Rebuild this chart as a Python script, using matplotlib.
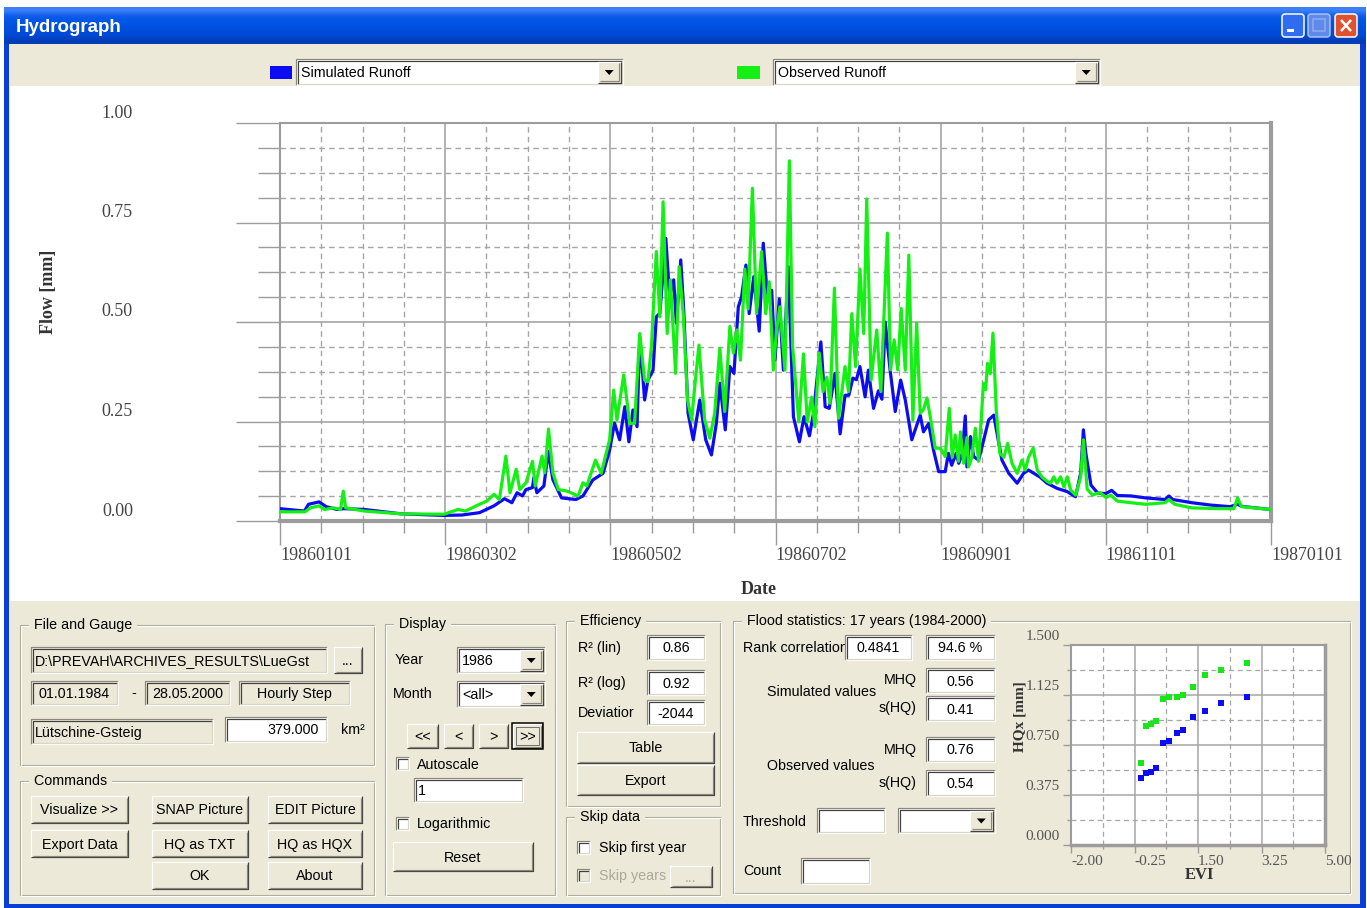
import numpy as np
import matplotlib
matplotlib.use("Agg")
import matplotlib.pyplot as plt
from matplotlib.patches import Rectangle, FancyBboxPatch, Polygon
from matplotlib.transforms import ScaledTranslation

# hydrograph 1986 (day of year, runoff in mm)
sim_day = [0, 9, 10.5, 14.4, 17, 21, 23.6, 31, 44.6, 60.4,
           67, 73.5, 78.8, 82.7, 85.4, 87.3, 89.3, 90.6, 93, 93.5,
           94.6, 97.2, 98.8, 100.5, 103.7, 109, 111.6, 115.2, 119, 121.4,
           123.2, 125.1, 127, 128.5, 130, 131.5, 132.5, 134.3, 135.5, 137.4,
           138.6, 139.9, 142.1, 143.5, 145, 146, 147.6, 148.7, 150.3, 152.2,
           154.6, 156.8, 158.9, 160.7, 162, 164, 165.7, 167.2, 168.8, 170,
           171.6, 172.8, 174.5, 176.5, 178, 179.5, 181.1, 182.3, 183.9, 185.4,
           187.2, 189.1, 191.3, 193, 195, 196.5, 198, 199.2, 200.8, 202.3,
           204.4, 206.3, 208.1, 209.5, 211, 212.3, 213.6, 215.5, 216.7, 218.6,
           220.4, 221.7, 222.9, 224.7, 226.6, 228.6, 230.3, 232.7, 234, 235.8,
           237, 238.9, 240.7, 242.6, 245, 246.2, 247.4, 249, 250, 251.3,
           252.4, 253, 254.3, 255.5, 257.3, 259.2, 261, 262.9, 264.1, 265.9,
           268.4, 271.5, 273.9, 275.7, 277.6, 280, 282.5, 286.2, 289.9, 293,
           294.9, 295.9, 296.8, 298.7, 301.2, 304.2, 306.3, 308.4, 313.3, 318.9,
           326, 327.4, 328.8, 335.8, 342.8, 349.9, 352.7, 354.1, 364.6]
sim_flow = [0.031, 0.025, 0.042, 0.048, 0.036, 0.029, 0.031, 0.029, 0.018, 0.014,
            0.015, 0.021, 0.038, 0.056, 0.046, 0.071, 0.063, 0.079, 0.084, 0.109,
            0.071, 0.088, 0.175, 0.104, 0.058, 0.054, 0.063, 0.103, 0.12, 0.178,
            0.246, 0.204, 0.287, 0.199, 0.279, 0.237, 0.463, 0.304, 0.354, 0.379,
            0.513, 0.522, 0.71, 0.563, 0.606, 0.497, 0.656, 0.53, 0.271, 0.204,
            0.304, 0.204, 0.166, 0.245, 0.346, 0.229, 0.388, 0.371, 0.538, 0.563,
            0.643, 0.521, 0.614, 0.477, 0.698, 0.563, 0.58, 0.405, 0.558, 0.379,
            0.639, 0.262, 0.199, 0.262, 0.214, 0.271, 0.371, 0.45, 0.287, 0.283,
            0.371, 0.219, 0.316, 0.316, 0.359, 0.355, 0.388, 0.312, 0.379, 0.283,
            0.327, 0.306, 0.5, 0.38, 0.275, 0.354, 0.304, 0.204, 0.23, 0.266,
            0.224, 0.245, 0.178, 0.124, 0.124, 0.17, 0.14, 0.17, 0.145, 0.17,
            0.264, 0.136, 0.212, 0.162, 0.153, 0.204, 0.254, 0.266, 0.22, 0.153,
            0.12, 0.095, 0.12, 0.128, 0.12, 0.11, 0.095, 0.082, 0.074, 0.061,
            0.12, 0.229, 0.17, 0.09, 0.07, 0.069, 0.077, 0.064, 0.063, 0.058,
            0.054, 0.063, 0.054, 0.046, 0.040, 0.036, 0.042, 0.037, 0.029]

obs_day = [0, 9.2, 11.2, 14.4, 16.4, 19.7, 22.3, 23.3, 24.2, 31,
           44.6, 60.4, 65.6, 68.3, 73.5, 76.2, 78.8, 80.8, 83.2, 84.7,
           87, 88.3, 90.6, 93, 94, 96.5, 97.5, 98.9, 100.5, 102.5,
           105.8, 109.8, 111.6, 113, 116.2, 118.3, 121.4, 122.9, 124.1, 126.6,
           128.8, 130.6, 132.5, 134.3, 135.5, 136.8, 138.6, 139.9, 141.1, 142.6,
           143.8, 145.7, 147, 148.5, 150.1, 151.6, 153, 154.3, 156.4, 158.3,
           160.1, 162, 163.8, 165.7, 167, 168.3, 169.6, 171.2, 172.4, 174,
           175.5, 177.4, 178.9, 180.2, 181.7, 182.9, 184.1, 186, 187.6, 188.8,
           191.1, 192.8, 194.2, 195.8, 197, 198.6, 200, 201.4, 202.6, 204.2,
           205.7, 208.1, 209.4, 210.6, 212, 213.6, 215, 216.1, 217.7, 219.8,
           221.3, 223.7, 224.9, 226.2, 227.5, 228.8, 230.3, 231.6, 233.1, 234.5,
           235.8, 237, 238.3, 239.9, 241.3, 243.2, 245, 246.5, 247.6, 248.7,
           249.9, 250.6, 251.8, 253, 253.6, 254.8, 256.1, 257.3, 259.1, 259.9,
           260.6, 261.6, 262.6, 263.8, 265.1, 266.6, 268, 269.6, 271.5, 273.3,
           274.5, 275.7, 277.4, 278.9, 280.7, 282.5, 283.8, 285, 286.2, 287.5,
           288.7, 290, 291.2, 293, 294.9, 295.9, 297.3, 299.3, 301.2, 302.1,
           304.2, 306, 308.4, 313.3, 318.9, 326, 327.4, 329.5, 335.8, 345.5,
           351.3, 352.7, 354.1, 364.6]
obs_flow = [0.023, 0.023, 0.033, 0.038, 0.029, 0.033, 0.029, 0.075, 0.033, 0.025,
            0.018, 0.017, 0.029, 0.025, 0.042, 0.05, 0.067, 0.054, 0.163, 0.071,
            0.13, 0.079, 0.096, 0.15, 0.088, 0.163, 0.121, 0.231, 0.121, 0.079,
            0.075, 0.063, 0.096, 0.088, 0.153, 0.12, 0.204, 0.329, 0.254, 0.367,
            0.245, 0.245, 0.471, 0.354, 0.35, 0.438, 0.677, 0.513, 0.802, 0.471,
            0.606, 0.371, 0.639, 0.522, 0.304, 0.254, 0.354, 0.442, 0.254, 0.208,
            0.271, 0.434, 0.275, 0.489, 0.422, 0.48, 0.404, 0.633, 0.533, 0.836,
            0.521, 0.677, 0.521, 0.601, 0.379, 0.48, 0.538, 0.379, 0.905, 0.438,
            0.249, 0.42, 0.249, 0.311, 0.237, 0.422, 0.325, 0.361, 0.296, 0.585,
            0.258, 0.388, 0.325, 0.521, 0.388, 0.633, 0.471, 0.809, 0.354, 0.48,
            0.325, 0.723, 0.38, 0.455, 0.38, 0.534, 0.379, 0.668, 0.254, 0.497,
            0.271, 0.28, 0.309, 0.246, 0.183, 0.183, 0.162, 0.283, 0.16, 0.216,
            0.15, 0.224, 0.145, 0.21, 0.136, 0.16, 0.233, 0.15, 0.346, 0.33,
            0.396, 0.37, 0.472, 0.279, 0.17, 0.16, 0.195, 0.145, 0.12, 0.153,
            0.128, 0.16, 0.183, 0.128, 0.11, 0.1, 0.095, 0.111, 0.095, 0.111,
            0.086, 0.111, 0.078, 0.065, 0.11, 0.204, 0.08, 0.065, 0.07, 0.071,
            0.059, 0.065, 0.05, 0.046, 0.042, 0.046, 0.054, 0.042, 0.033, 0.031,
            0.031, 0.058, 0.036, 0.029]

date_labels = ["19860101", "19860302", "19860502", "19860702",
               "19860901", "19861101", "19870101"]
flow_ticks = [0.0, 0.25, 0.5, 0.75, 1.0]

# flood frequency plot (EV1 reduced variate vs. annual peaks)
evi = [-0.08, 0.058, 0.195, 0.342, 0.545, 0.692, 0.912, 1.096, 1.353, 1.693, 2.125, 2.841]
hqx_obs = [0.613, 0.893, 0.905, 0.933, 1.095, 1.108, 1.108, 1.125, 1.188, 1.278, 1.315, 1.368]
hqx_sim = [0.5, 0.54, 0.548, 0.58, 0.763, 0.783, 0.843, 0.863, 0.963, 1.008, 1.065, 1.108]
evi_ticks = [-2.0, -0.25, 1.5, 3.25, 5.0]
hq_ticks = [0.0, 0.375, 0.75, 1.125, 1.5]

W, H = 1367, 908
BEIGE = "#ECE9D8"
SANS = "Liberation Sans"
SERIF = "Liberation Serif"
BLUE = "#0c0cf2"
GREEN = "#14f014"

fig = plt.figure(figsize=(W / 100, H / 100), dpi=100)
fig.patch.set_facecolor("white")
bg = fig.add_axes([0, 0, 1, 1])
bg.set_xlim(0, W)
bg.set_ylim(H, 0)
bg.axis("off")


def px(v):
    return v * 0.72


def box(x0, y0, x1, y1, fc, ec="none", lw=1, z=1):
    bg.add_patch(Rectangle((x0, y0), x1 - x0, y1 - y0, fc=fc, ec=ec, lw=px(lw), zorder=z))


def line(xs, ys, c, lw=1, z=2, **kw):
    bg.plot(xs, ys, color=c, lw=px(lw), zorder=z, solid_capstyle="butt", **kw)


def bevel(x0, y0, x1, y1, tl, br, lw=1.2, z=2):
    line([x0, x0, x1], [y1, y0, y0], tl, lw, z)
    line([x0, x1, x1], [y1, y1, y0], br, lw, z)


def text(x, y, s, ha="left", size=10.3, color="black", z=3, **kw):
    return bg.text(x, y, s, ha=ha, va="center", fontsize=size, color=color,
                   family=SANS, zorder=z, **kw)


def sunken(x0, y0, x1, y1, fc="white"):
    box(x0, y0, x1, y1, fc, z=2)
    bevel(x0, y0, x1, y1, "#8a877c", "white", z=2.5)
    bevel(x0 + 1.5, y0 + 1.5, x1 - 1.5, y1 - 1.5, "#404040", "#d8d5c8", z=2.5)


def raised(x0, y0, x1, y1, label=None, color="black"):
    box(x0, y0, x1, y1, BEIGE, z=2)
    bevel(x0, y0, x1, y1, "white", "#404040", z=2.5)
    bevel(x0 + 1.5, y0 + 1.5, x1 - 1.5, y1 - 1.5, BEIGE, "#8a877c", z=2.5)
    if label:
        text((x0 + x1) / 2, (y0 + y1) / 2 + 1, label, ha="center", color=color)


def arrow_btn(x0, y0, x1, y1):
    raised(x0, y0, x1, y1)
    cx, cy = (x0 + x1) / 2, (y0 + y1) / 2
    bg.add_patch(Polygon([[cx - 4.5, cy - 2], [cx + 4.5, cy - 2], [cx, cy + 3]],
                         fc="black", ec="none", zorder=3))


def combo(x0, y0, x1, y1, label=""):
    sunken(x0, y0, x1, y1)
    arrow_btn(x1 - 25, y0 + 2.5, x1 - 2.5, y1 - 2.5)
    text(x0 + 5, (y0 + y1) / 2 + 1, label)


def field(x0, y0, x1, y1, label="", fc="white", align="center", color="black"):
    sunken(x0, y0, x1, y1, fc)
    cy = (y0 + y1) / 2 + 1
    if align == "center":
        text((x0 + x1) / 2, cy, label, ha="center", color=color)
    elif align == "right":
        text(x1 - 8, cy, label, ha="right", color=color)
    else:
        text(x0 + 4, cy, label, color=color)


def check(x0, y0, fc="white"):
    sunken(x0, y0, x0 + 13, y0 + 13, fc)


def group(x0, y0, x1, y1, title):
    for off, c in ((0, "#aca899"), (1.3, "white")):
        bg.add_patch(Rectangle((x0 + off, y0 + off), x1 - x0, y1 - y0, fill=False,
                               ec=c, lw=px(1.1), zorder=1.5))
    text(x0 + 10, y0, " " + title + " ", z=3,
         bbox=dict(fc=BEIGE, ec="none", pad=0.5))


# ---- window frame ----
box(4, 7, 1366, 908, BEIGE, z=0)
grad = np.array([[0.24, 0.50, 0.98], [0.05, 0.36, 0.92], [0.0, 0.33, 0.89],
                 [0.0, 0.31, 0.87], [0.0, 0.29, 0.84], [0.02, 0.24, 0.72]])
bg.imshow(grad[:, None, :], extent=(4, 1366, 44, 7), aspect="auto", zorder=0.5,
          interpolation="bilinear")
box(4, 44, 9, 908, "#0a3fd4", z=0.6)
box(1360, 44, 1366, 908, "#0a3fd4", z=0.6)
box(4, 904, 1366, 908, "#0a3fd4", z=0.6)
bg.text(16, 27, "Hydrograph", color="white", fontsize=13.5, fontweight="bold",
        family=SANS, va="center", ha="left", zorder=3)

# caption buttons
bg.add_patch(FancyBboxPatch((1282, 14), 22, 23, boxstyle="round,pad=0,rounding_size=3",
                            fc="#2f6cf0", ec="white", lw=1.1, zorder=3))
box(1287, 29, 1294, 32, "white", z=4)
bg.add_patch(FancyBboxPatch((1308, 14), 22, 23, boxstyle="round,pad=0,rounding_size=3",
                            fc="#5f8aea", ec="#a9c0f2", lw=1.1, zorder=3))
box(1313, 19, 1325, 31, "none", ec="#8fadee", lw=1.5, z=4)
bg.add_patch(FancyBboxPatch((1335, 14), 22, 23, boxstyle="round,pad=0,rounding_size=3",
                            fc="#e0522f", ec="white", lw=1.1, zorder=3))
line([1341, 1351], [20, 31], "white", 2.5, z=4)
line([1341, 1351], [31, 20], "white", 2.5, z=4)

# series selectors
box(270, 66, 292, 79, BLUE, z=2)
combo(296, 59, 623, 85, "Simulated Runoff")
box(737, 66, 760, 79, GREEN, z=2)
combo(773, 59, 1100, 85, "Observed Runoff")

# white chart panel
box(10, 86, 1360, 601, "white", z=0.8)

# ---- main hydrograph ----
ax = fig.add_axes([280 / W, 1 - 521 / H, 991 / W, 398 / H])
ax.set_facecolor("white")
ax.plot(sim_day, sim_flow, color=BLUE, lw=2.3, zorder=3)
ax.plot(obs_day, obs_flow, color=GREEN, lw=2.3, zorder=4)
ax.set_xlim(0, 365)
ax.set_ylim(0, 1)
xt = np.linspace(0, 365, len(date_labels))
ax.set_xticks(xt)
ax.set_xticks(np.linspace(0, 365, 4 * (len(date_labels) - 1) + 1), minor=True)
ax.set_xticklabels(date_labels, ha="left", family=SERIF, fontsize=13, color="#444444")
ax.set_yticks(flow_ticks)
ax.set_yticks(np.arange(0, 1.0001, 0.0625), minor=True)
ax.set_yticklabels([])
ax.grid(which="major", color="#a6a6a6", lw=1.2)
ax.grid(which="minor", color="#a6a6a6", lw=1.0, ls=(0, (4, 3)))
ax.set_axisbelow(True)
ax.tick_params(axis="x", which="major", length=17, width=1, color="#9c9c9c", pad=2)
ax.tick_params(axis="x", which="minor", length=8.5, width=1, color="#9c9c9c")
ax.tick_params(axis="y", which="major", length=32, width=1, color="#9c9c9c")
ax.tick_params(axis="y", which="minor", length=16, width=1, color="#9c9c9c")
for s in ax.spines.values():
    s.set_color("#9c9c9c")
    s.set_linewidth(1.5)
ax.spines["bottom"].set_linewidth(3)
ax.spines["right"].set_linewidth(3)
ylab_t = ax.get_yaxis_transform() + ScaledTranslation(-1.47, 0.10, fig.dpi_scale_trans)
for v in flow_ticks:
    ax.text(0, v, f"{v:.2f}", transform=ylab_t, ha="right", va="center",
            family=SERIF, fontsize=13, color="#444444")
bg.text(759, 590, "Date", ha="center", va="center", family=SERIF, fontsize=13,
        fontweight="bold", color="#333333", zorder=3)
bg.text(48, 292, "Flow [mm]", ha="center", va="center", family=SERIF, fontsize=13,
        fontweight="bold", color="#333333", rotation=90, zorder=3)

# ---- File and Gauge ----
group(20, 625, 374, 765, "File and Gauge")
field(31, 647, 327, 673, "D:\\PREVAH\\ARCHIVES_RESULTS\\LueGst", fc=BEIGE, align="left")
raised(334, 647, 362, 673, "...")
field(31, 681, 118, 705, "01.01.1984", fc=BEIGE)
text(131, 693, "-")
field(145, 681, 230, 705, "28.05.2000", fc=BEIGE)
field(239, 681, 350, 705, "Hourly Step", fc=BEIGE)
field(31, 719, 213, 744, "Lütschine-Gsteig", fc=BEIGE, align="left")
field(225, 717, 327, 742, "379.000", align="right")
text(341, 730, "km²")

# ---- Commands ----
group(20, 781, 374, 895, "Commands")
raised(31, 796, 128, 823, "Visualize >>")
raised(152, 796, 248, 823, "SNAP Picture")
raised(268, 796, 362, 823, "EDIT Picture")
raised(31, 830, 128, 857, "Export Data")
raised(152, 830, 248, 857, "HQ as TXT")
raised(268, 830, 362, 857, "HQ as HQX")
raised(152, 862, 248, 889, "OK")
raised(268, 862, 362, 889, "About")

# ---- Display ----
group(385, 624, 555, 895, "Display")
text(395, 660, "Year")
combo(457, 647, 545, 673, "1986")
text(393, 694, "Month")
combo(457, 681, 545, 707, "<all>")
raised(407, 724, 438, 748, "<<")
raised(444, 724, 473, 748, "<")
raised(479, 724, 508, 748, ">")
raised(513, 724, 542, 748, ">>")
box(512, 723, 543, 749, "none", ec="black", lw=1.5, z=3)
box(516, 727, 539, 745, "none", ec="#555555", lw=0.8, z=3)
check(396, 757)
text(417, 765, "Autoscale")
field(414, 778, 523, 802, "1", align="left")
check(396, 817)
text(417, 824, "Logarithmic")
raised(393, 842, 533, 871, "Reset")

# ---- Efficiency ----
group(566, 621, 720, 806, "Efficiency")
text(578, 648, "R² (lin)")
field(647, 635, 705, 660, "0.86")
text(578, 683, "R² (log)")
field(647, 670, 705, 695, "0.92")
text(578, 713, "Deviatior")
field(647, 700, 705, 725, "-2044")
raised(577, 732, 714, 763, "Table")
raised(577, 765, 714, 795, "Export")

# ---- Skip data ----
group(566, 817, 720, 895, "Skip data")
check(577, 841)
text(599, 848, "Skip first year")
check(577, 869, fc=BEIGE)
text(599, 876, "Skip years", color="#aca899")
raised(670, 866, 712, 887, "...", color="#aca899")

# ---- Flood statistics ----
group(733, 621, 1350, 893, "Flood statistics: 17 years (1984-2000)")
text(743, 648, "Rank correlation", z=1.8)
field(845, 635, 912, 660, "0.4841")
field(926, 635, 995, 660, "94.6 %")
text(917, 680, "MHQ", ha="right")
field(926, 668, 995, 693, "0.56")
text(767, 692, "Simulated values")
text(917, 708, "s(HQ)", ha="right")
field(926, 696, 995, 721, "0.41")
text(917, 750, "MHQ", ha="right")
field(926, 737, 995, 762, "0.76")
text(767, 766, "Observed values")
text(917, 783, "s(HQ)", ha="right")
field(926, 770, 995, 796, "0.54")
text(743, 822, "Threshold")
field(817, 808, 885, 833)
combo(898, 808, 995, 833)
text(743, 871, "Count")
field(801, 858, 870, 884)

# ---- flood frequency scatter ----
sx = fig.add_axes([1071 / W, 1 - 845 / H, 254 / W, 200 / H])
sx.set_facecolor("white")
sx.scatter(evi, hqx_obs, marker="s", s=20, color="#18e618", lw=0, zorder=3)
sx.scatter(evi, hqx_sim, marker="s", s=20, color=BLUE, lw=0, zorder=3)
sx.set_xlim(-2, 5)
sx.set_ylim(0, 1.5)
sx.set_xticks(evi_ticks)
sx.set_xticks(np.arange(-2, 5.01, 0.875), minor=True)
sx.set_yticks(hq_ticks)
sx.set_yticks(np.arange(0, 1.501, 0.1875), minor=True)
sx.set_xticklabels([f"{v:.2f}" for v in evi_ticks], ha="left", family=SERIF,
                   fontsize=11, color="#555555")
sx.set_yticklabels([])
sx.grid(which="major", color="#a6a6a6", lw=1.1)
sx.grid(which="minor", color="#a6a6a6", lw=0.9, ls=(0, (4, 3)))
sx.set_axisbelow(True)
sx.tick_params(which="major", length=6, width=1, color="#9c9c9c", pad=1)
sx.tick_params(which="minor", length=3, width=1, color="#9c9c9c")
for s in sx.spines.values():
    s.set_color("#9c9c9c")
    s.set_linewidth(1.5)
sx.spines["bottom"].set_linewidth(2.5)
sx.spines["right"].set_linewidth(2.5)
hlab_t = sx.get_yaxis_transform() + ScaledTranslation(-0.11, 0.08, fig.dpi_scale_trans)
for v in hq_ticks:
    sx.text(0, v, f"{v:.3f}", transform=hlab_t, ha="right", va="center",
            family=SERIF, fontsize=11, color="#555555")
bg.text(1200, 875, "EVI", ha="center", va="center", family=SERIF, fontsize=12,
        fontweight="bold", color="#333333", zorder=3)
bg.text(1020, 717, "HQx [mm]", ha="center", va="center", family=SERIF, fontsize=11,
        fontweight="bold", color="#333333", rotation=90, zorder=4)

fig.savefig("out.png", dpi=100)
